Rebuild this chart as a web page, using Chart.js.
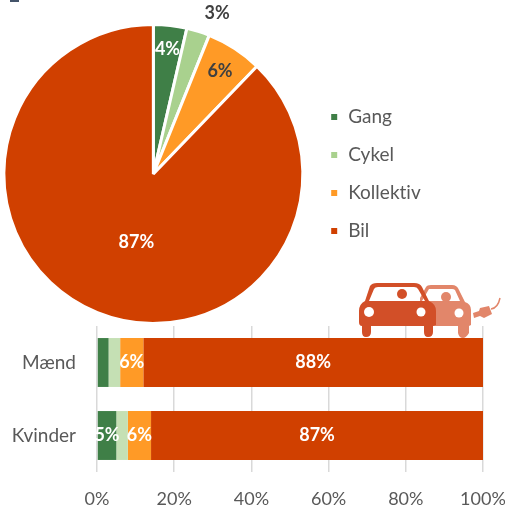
<!DOCTYPE html>
<html><head><meta charset="utf-8">
<script src="https://cdn.jsdelivr.net/npm/chart.js@4"></script>
<style>
html,body{margin:0;padding:0;background:#fff;width:505px;height:511px;overflow:hidden}
canvas{position:absolute}
#pieWrap{position:absolute;left:0;top:0;width:427px;height:348px}
#barWrap{position:absolute;left:0;top:326px;width:505px;height:185px}
#icon{position:absolute;left:355px;top:278px}
#mark{position:absolute;left:10px;top:0;width:9px;height:2px;background:#44546A}
</style></head><body>
<div id="mark"></div>
<div id="pieWrap"><canvas id="pie"></canvas></div>
<div id="barWrap"><canvas id="bar"></canvas></div>
<svg id="icon" width="150" height="62" viewBox="0 0 150 62">
  <g>
    <path fill="#E2866A" fill-rule="evenodd" d="M71 9 Q72 7 76 7 L97 7 Q102 7 104 12 L110 24 Q116 26 116 32 L116 47 L114 48 L114 55 Q111 60 108 60 Q104 60 103 55 L103 48 L65 48 L65 20 Z M67 23 L105 23 L100 12 Q99 11 97 11 L74 11 Z"/>
    <circle cx="91" cy="19" r="5" fill="#E2866A"/>
    <circle cx="104" cy="35" r="4.5" fill="#fff"/>
    <path fill="#D24F28" fill-rule="evenodd" d="M15 8 Q17 5 22 5 L59 5 Q65 5 67 9 L74 23 Q81 26 81 33 L81 47 L78 48 L78 54 Q78 59 73 59 Q69 59 69 54 L69 48 L16 48 L16 54 Q16 59 11 59 Q7 59 7 54 L7 48 Q4 48 4 44 L4 33 Q4 26 10 23 Z M14 23 L70 23 L63 11 Q62 9 59 9 L23 9 Q20 9 19 11 Z"/>
    <circle cx="47" cy="16" r="5" fill="#D24F28"/>
    <circle cx="14" cy="34" r="5" fill="#fff"/>
    <circle cx="66" cy="34" r="4.5" fill="#fff"/>
    <path fill="#E2866A" d="M118 35 L124 33 L125 30 L134 28 L137 36 L129 40 L125 38 L119 40 Z"/>
    <path fill="none" stroke="#E2866A" stroke-width="1.5" d="M136 31 Q143 30 145 20"/>
  </g>
</svg>
<script>
const pieCategories = ["Gang","Cykel","Kollektiv","Bil"];
const pieValues = [3.6, 2.5, 6.1, 87.8];
const pieLabels = ["4%","3%","6%","87%"];
const pieColors = ["#3F7F47","#A9D18E","#FF9A26","#D04000"];

const barCategories = ["Mænd","Kvinder"];
const gangValues = [3, 5];
const cykelValues = [3, 3];
const kollektivValues = [6, 6];
const bilValues = [88, 86];
const barLabelsKollektiv = ["6%","6%"];
const barLabelsBil = ["88%","87%"];
const barLabelsGang = ["","5%"];
const barColors = ["#3F7F47","#C5E0B4","#FF9A26","#D04000"];
const xTicks = ["0%","20%","40%","60%","80%","100%"];

const FONT = "Lato, 'Open Sans', sans-serif";
const GRAY = "#595959";

const noLigatures = {
  id:"noLigatures",
  beforeDraw(chart){ chart.ctx.letterSpacing="0.01px"; }
};

const legendNudge = {
  id:"legendNudge",
  afterLayout(chart){ chart.legend.left+=4; chart.legend.right+=4; }
};

const pieLabelPlugin = {
  id:"pieLabelPlugin",
  afterDatasetsDraw(chart){
    const ctx = chart.ctx, meta = chart.getDatasetMeta(0);
    const frac = [0.84,1.155,0.82,0.47];
    const extra = [0,0.073,0,-0.14];
    const cols = ["#fff","#404040","#404040","#fff"];
    ctx.save();
    ctx.font = "bold 18px "+FONT;
    ctx.textAlign="center";ctx.textBaseline="middle";
    meta.data.forEach((a,i)=>{
      const mid=(a.startAngle+a.endAngle)/2+extra[i];
      const r=a.outerRadius*frac[i];
      ctx.fillStyle=cols[i];
      ctx.fillText(pieLabels[i],a.x+Math.cos(mid)*r,a.y+Math.sin(mid)*r);
    });
    ctx.restore();
  }
};

new Chart(document.getElementById("pie"),{
  type:"pie",
  data:{labels:pieCategories,datasets:[{data:pieValues,backgroundColor:pieColors,borderColor:"#fff",borderWidth:3,hoverOffset:0}]},
  options:{
    responsive:true,maintainAspectRatio:false,animation:false,
    layout:{padding:{top:23,bottom:23,left:0,right:0}},
    plugins:{
      tooltip:{enabled:false},
      legend:{position:"right",align:"center",
        labels:{boxWidth:9,boxHeight:9,padding:19,color:GRAY,font:{family:FONT,size:19}}}
    }
  },
  plugins:[noLigatures,legendNudge,pieLabelPlugin]
});

const barLabelPlugin = {
  id:"barLabelPlugin",
  afterDatasetsDraw(chart){
    const ctx=chart.ctx;
    const sets=[barLabelsGang,null,barLabelsKollektiv,barLabelsBil];
    ctx.save();
    ctx.font="bold 18px "+FONT;ctx.fillStyle="#fff";
    ctx.textAlign="center";ctx.textBaseline="middle";
    sets.forEach((s,d)=>{
      if(!s)return;
      chart.getDatasetMeta(d).data.forEach((b,i)=>{
        if(!s[i])return;
        ctx.fillText(s[i],(b.x+b.base)/2,b.y);
      });
    });
    ctx.restore();
  }
};

const names=pieCategories;
const sets=[gangValues,cykelValues,kollektivValues,bilValues];
new Chart(document.getElementById("bar"),{
  type:"bar",
  data:{labels:barCategories,datasets:sets.map((v,i)=>({label:names[i],data:v,backgroundColor:barColors[i],borderWidth:0,barPercentage:0.67,categoryPercentage:1}))},
  options:{
    indexAxis:"y",responsive:true,maintainAspectRatio:false,animation:false,
    layout:{padding:{top:0,right:22,left:0,bottom:0}},
    plugins:{legend:{display:false},tooltip:{enabled:false}},
    scales:{
      x:{stacked:true,min:0,max:100,
        grid:{color:"#D9D9D9",lineWidth:1.5,drawTicks:false},border:{display:false},
        ticks:{stepSize:20,maxRotation:0,color:GRAY,padding:16,font:{family:FONT,size:18},
          callback:(v,i)=>xTicks[i]},
        afterFit(s){s.height=39;s.paddingLeft=0;s.paddingRight=0;s.paddingTop=0;s.paddingBottom=0;}
      },
      y:{stacked:true,
        grid:{display:false,drawTicks:false},border:{display:false},
        ticks:{color:GRAY,padding:21,font:{family:FONT,size:19}},
        afterFit(s){s.width=97;s.paddingLeft=0;s.paddingRight=0;s.paddingTop=0;s.paddingBottom=0;}
      }
    }
  },
  plugins:[noLigatures,barLabelPlugin]
});
</script>
</body></html>
